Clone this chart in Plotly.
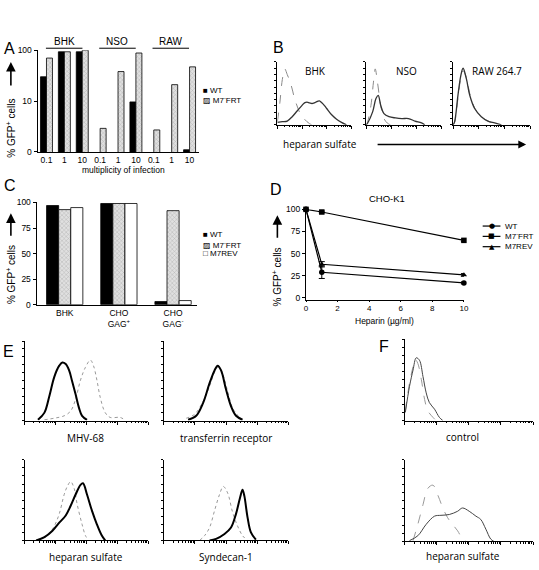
import plotly.graph_objects as go
import numpy as np

W, H = 539, 570

# ---------------- data ----------------
# Panel A (log scale, % GFP+ cells)
a_groups = ["BHK", "NSO", "RAW"]
a_moi = ["0.1", "1", "10"]
a_wt = [30, 93, 93, None, None, 9.6, None, None, 1.1]
a_frt = [70, 93, 100, 2.9, 38, 88, 2.7, 21, 47]

# Panel C
c_cats = ["BHK", "CHO<br>GAG<sup>+</sup>", "CHO<br>GAG<sup>-</sup>"]
c_wt = [97, 99, 3]
c_frt = [93, 99, 92]
c_rev = [95, 99, 4]

# Panel D
d_heparin = [0, 1, 10]
d_wt = [100, 29, 17]
d_wt_err = [0, 7, 1]
d_frt = [100, 97, 65]
d_frt_err = [0, 1, 1.5]
d_rev = [100, 38, 26]
d_rev_err = [0, 3, 1.5]

# Panel B histograms (x in log decades, y relative counts)
b_bhk_ctrl_x = [0.0, 0.1, 0.2, 0.3, 0.4, 0.5, 0.6, 0.7, 0.8, 0.9, 1.0, 1.1, 1.2, 1.3, 1.4]
b_bhk_ctrl_y = [0.05, 0.35, 0.72, 0.89, 0.8, 0.7, 0.57, 0.41, 0.3, 0.2, 0.14, 0.09, 0.05, 0.02, 0.0]
b_bhk_hs_x = [0.0, 0.2, 0.4, 0.6, 0.8, 1.0, 1.1, 1.2, 1.3, 1.4, 1.5, 1.6, 1.7, 1.8, 1.9, 2.0, 2.2, 2.4, 2.6, 2.8]
b_bhk_hs_y = [0.04, 0.05, 0.06, 0.13, 0.22, 0.31, 0.35, 0.36, 0.35, 0.34, 0.35, 0.37, 0.38, 0.35, 0.31, 0.26, 0.16, 0.09, 0.04, 0.0]
b_nso_ctrl_x = [0.0, 0.06, 0.19, 0.29, 0.36, 0.45, 0.58, 0.71, 0.84, 0.97]
b_nso_ctrl_y = [0.0, 0.05, 0.31, 0.68, 0.89, 0.68, 0.31, 0.1, 0.03, 0.0]
b_nso_hs_x = [0.0, 0.06, 0.26, 0.39, 0.48, 0.58, 0.71, 0.91, 1.17, 1.43, 1.69, 1.95, 2.21, 2.34]
b_nso_hs_y = [0.0, 0.03, 0.21, 0.42, 0.47, 0.31, 0.18, 0.13, 0.11, 0.1, 0.1, 0.06, 0.03, 0.0]
b_raw_x = [0.0, 0.06, 0.19, 0.3, 0.39, 0.52, 0.65, 0.84, 1.1, 1.36, 1.62, 1.88]
b_raw_hs_y = [0.0, 0.05, 0.47, 0.78, 0.9, 0.73, 0.47, 0.26, 0.13, 0.06, 0.03, 0.0]
b_raw_ctrl_y = [0.0, 0.04, 0.42, 0.74, 0.86, 0.75, 0.5, 0.27, 0.13, 0.06, 0.03, 0.0]

# Panel E histograms
e_mhv_x = [0.43, 0.64, 0.8, 0.96, 1.12, 1.22, 1.33, 1.44, 1.54, 1.65, 1.76, 1.86, 2.02]
e_mhv_y = [0.01, 0.1, 0.31, 0.55, 0.69, 0.73, 0.71, 0.63, 0.49, 0.33, 0.16, 0.06, 0.01]
e_mhv_ctrl_x = [0.64, 0.96, 1.28, 1.49, 1.65, 1.81, 1.97, 2.13, 2.23, 2.34, 2.45, 2.61, 2.77, 3.09, 3.24]
e_mhv_ctrl_y = [0.01, 0.03, 0.06, 0.12, 0.27, 0.51, 0.67, 0.76, 0.69, 0.51, 0.29, 0.1, 0.04, 0.04, 0.01]
e_tfr_x = [0.78, 1.04, 1.26, 1.47, 1.63, 1.73, 1.84, 2.0, 2.16, 2.32, 2.53]
e_tfr_y = [0.01, 0.06, 0.22, 0.47, 0.63, 0.69, 0.63, 0.39, 0.18, 0.06, 0.01]
e_tfr_ctrl_x = [0.72, 0.99, 1.26, 1.47, 1.68, 1.77, 1.89, 2.05, 2.21, 2.43]
e_tfr_ctrl_y = [0.03, 0.08, 0.24, 0.43, 0.65, 0.67, 0.59, 0.37, 0.16, 0.04]
e_hs_x = [0.37, 0.64, 0.9, 1.12, 1.33, 1.49, 1.65, 1.81, 1.89, 2.02, 2.18, 2.34, 2.5, 2.61]
e_hs_y = [0.0, 0.04, 0.12, 0.22, 0.31, 0.43, 0.57, 0.69, 0.71, 0.57, 0.37, 0.2, 0.06, 0.0]
e_hs_ctrl_x = [0.43, 0.74, 0.96, 1.12, 1.28, 1.38, 1.49, 1.6, 1.7, 1.86, 1.97, 2.07]
e_hs_ctrl_y = [0.0, 0.06, 0.18, 0.33, 0.57, 0.67, 0.73, 0.65, 0.45, 0.2, 0.06, 0.0]
e_syn_x = [1.47, 1.68, 1.95, 2.16, 2.32, 2.45, 2.53, 2.59, 2.69, 2.8, 2.96]
e_syn_y = [0.0, 0.02, 0.08, 0.16, 0.33, 0.53, 0.63, 0.55, 0.29, 0.1, 0.01]
e_syn_ctrl_x = [1.15, 1.31, 1.47, 1.63, 1.79, 1.91, 2.05, 2.21, 2.37, 2.53, 2.69]
e_syn_ctrl_y = [0.0, 0.06, 0.16, 0.37, 0.57, 0.67, 0.59, 0.35, 0.18, 0.06, 0.0]

# Panel F histograms
f_ctl_x = [0.02, 0.15, 0.26, 0.36, 0.46, 0.57, 0.67, 0.77, 0.93, 1.08, 1.19]
f_ctl_y = [0.1, 0.42, 0.62, 0.77, 0.74, 0.54, 0.34, 0.22, 0.14, 0.04, 0.0]
f_ctl_ctrl_x = [0.02, 0.15, 0.26, 0.33, 0.41, 0.52, 0.62, 0.72, 0.88, 0.98]
f_ctl_ctrl_y = [0.12, 0.46, 0.66, 0.75, 0.7, 0.5, 0.26, 0.12, 0.04, 0.0]
f_hs_x = [0.15, 0.41, 0.67, 0.93, 1.13, 1.39, 1.65, 1.8, 2.01, 2.22, 2.37, 2.53, 2.68, 2.78]
f_hs_y = [0.01, 0.07, 0.21, 0.31, 0.32, 0.33, 0.37, 0.41, 0.37, 0.31, 0.27, 0.15, 0.03, 0.0]
f_hs_ctrl_x = [0.26, 0.41, 0.57, 0.72, 0.88, 1.03, 1.19, 1.34, 1.49, 1.65, 1.8, 1.91]
f_hs_ctrl_y = [0.01, 0.21, 0.45, 0.65, 0.69, 0.57, 0.41, 0.29, 0.21, 0.13, 0.03, 0.0]

# ---------------- helpers ----------------
FONT = "Liberation Sans, Arial, DejaVu Sans, sans-serif"
HFONT = "Open Sans, Liberation Sans, sans-serif"


def xd(l, r):
    return [l / W, r / W]


def yd(t, b):
    return [1 - b / H, 1 - t / H]


def X(p):
    return p / W


def Y(p):
    return 1 - p / H


layout = {}
annotations = []
shapes = []
traces = []


def add_axes(n, xdom, ydom, xopts, yopts):
    sfx = "" if n == 1 else str(n)
    base = dict(showgrid=False, zeroline=False, showline=True, linecolor="black",
                linewidth=1, ticks="outside", tickcolor="black", tickwidth=1,
                tickfont=dict(family=FONT, size=8.5, color="black"), fixedrange=True)
    xa = dict(base, domain=xdom, anchor="y" + sfx)
    xa.update(xopts)
    ya = dict(base, domain=ydom, anchor="x" + sfx)
    ya.update(yopts)
    layout["xaxis" + sfx] = xa
    layout["yaxis" + sfx] = ya
    return "x" + sfx, "y" + sfx


def hist_axes(n, xdom, ydom, ndec):
    minor_vals = [k + np.log10(m) for k in range(ndec) for m in range(2, 10)]
    return add_axes(
        n, xdom, ydom,
        dict(range=[0, ndec], tickmode="array", tickvals=list(range(ndec + 1)),
             ticklen=3, showticklabels=False,
             minor=dict(tickmode="array", tickvals=minor_vals, ticks="outside",
                        ticklen=1.5, tickcolor="black", showgrid=False)),
        dict(range=[0, 1], tickmode="linear", tick0=0, dtick=0.1, ticklen=2,
             showticklabels=False))


def text(x, y, s, size=9, family=FONT, anchor="center", angle=0):
    annotations.append(dict(x=X(x), y=Y(y), xref="paper", yref="paper", text=s,
                            showarrow=False, xanchor=anchor, yanchor="middle",
                            textangle=angle,
                            font=dict(family=family, size=size, color="#000000")))


def ytitle(x, ymid, a_top, a_bot):
    text(x, ymid, "% GFP<sup>+</sup> cells", size=10, angle=-90)
    annotations.append(dict(x=X(x), y=Y(a_top), xref="paper", yref="paper", text="",
                            showarrow=True, ax=0, ay=a_bot - a_top, arrowhead=2,
                            arrowsize=1.2, arrowwidth=1.6, arrowcolor="black"))


# ---------------- Panel A ----------------
xa, ya = add_axes(1, xd(36, 200), yd(46, 149.5),
                  dict(range=[-0.5, 8.55], tickmode="array", tickvals=list(range(9)),
                       ticktext=a_moi * 3, ticks="", ticklen=0),
                  dict(type="log", range=[0, 2], tickmode="array", tickvals=[1, 10, 100],
                       ticktext=["0", "10", "100"], ticklen=3))
slots = list(range(9))
traces.append(go.Bar(x=slots, y=a_wt, xaxis=xa, yaxis=ya, name="WT",
                     marker=dict(color="black", line=dict(color="black", width=0.8)),
                     showlegend=False))
traces.append(go.Bar(x=slots, y=a_frt, xaxis=xa, yaxis=ya, name="M7-FRT",
                     marker=dict(color="#d4d4d4", line=dict(color="black", width=0.8),
                                 pattern=dict(shape="x", size=3, solidity=0.25,
                                              fgcolor="#777", bgcolor="#e0e0e0")),
                     showlegend=False))
text(8, 44, "A", size=16)
for i, g in enumerate(a_groups):
    cx = 63 + i * 54
    text(cx, 37, g, size=10)
    shapes.append(dict(type="line", xref="paper", yref="paper",
                       x0=X(cx - 18.5), x1=X(cx + 18.5), y0=Y(44), y1=Y(44),
                       line=dict(color="black", width=1)))
text(202, 87, "■ WT", size=8, anchor="left")
text(202, 97, "▨ M7<sup>-</sup>FRT", size=8, anchor="left")
text(123, 168, "multiplicity of infection", size=8.5)
ytitle(9, 125, 58, 83)

# ---------------- Panel B ----------------
b_sets = [
    (xd(279, 354), b_bhk_hs_x, b_bhk_hs_y, b_bhk_ctrl_x, b_bhk_ctrl_y, "BHK", 318),
    (xd(369, 445), b_nso_hs_x, b_nso_hs_y, b_nso_ctrl_x, b_nso_ctrl_y, "NSO", 410),
    (xd(457, 535), b_raw_x, b_raw_hs_y, b_raw_x, b_raw_ctrl_y, "RAW 264.7", 502),
]
for i, (xdm, sx, sy, cx_, cy_, lab, lx) in enumerate(b_sets):
    xa, ya = hist_axes(2 + i, xdm, yd(58, 122), 3)
    traces.append(go.Scatter(x=cx_, y=cy_, xaxis=xa, yaxis=ya, mode="lines",
                             line=dict(color="#8a8a8a", width=1, dash="dash", shape="spline"),
                             showlegend=False))
    traces.append(go.Scatter(x=sx, y=sy, xaxis=xa, yaxis=ya, mode="lines",
                             line=dict(color="#333", width=1.3, shape="spline"),
                             showlegend=False))
    text(lx, 67, lab, size=10, family=HFONT)
text(280, 43, "B", size=16)
text(283, 141, "heparan sulfate", size=10, family=HFONT, anchor="left")
annotations.append(dict(x=X(531), y=Y(142), xref="paper", yref="paper", text="",
                        showarrow=True, ax=-150, ay=0, arrowhead=2, arrowsize=1.2,
                        arrowwidth=1.3, arrowcolor="black"))

# ---------------- Panel C ----------------
xa, ya = add_axes(5, xd(35, 198), yd(201, 305),
                  dict(range=[-0.52, 2.45], tickmode="array", tickvals=[0, 1, 2],
                       ticktext=c_cats, ticks=""),
                  dict(range=[0, 100], tickmode="array", tickvals=[0, 25, 50, 75, 100],
                       ticklen=3))
traces.append(go.Bar(x=[0, 1, 2], y=c_wt, xaxis=xa, yaxis=ya,
                     marker=dict(color="black", line=dict(color="black", width=0.8)),
                     showlegend=False))
traces.append(go.Bar(x=[0, 1, 2], y=c_frt, xaxis=xa, yaxis=ya,
                     marker=dict(color="#d4d4d4", line=dict(color="black", width=0.8),
                                 pattern=dict(shape="x", size=3, solidity=0.25,
                                              fgcolor="#777", bgcolor="#e0e0e0")),
                     showlegend=False))
traces.append(go.Bar(x=[0, 1, 2], y=c_rev, xaxis=xa, yaxis=ya,
                     marker=dict(color="white", line=dict(color="black", width=0.8)),
                     showlegend=False))
text(8, 184, "C", size=16)
text(202, 234, "■ WT", size=8, anchor="left")
text(202, 244, "▨ M7<sup>-</sup>FRT", size=8, anchor="left")
text(202, 253, "□ M7REV", size=8, anchor="left")
ytitle(9, 274, 212, 236)

# ---------------- Panel D ----------------
xa, ya = add_axes(6, xd(308, 468), yd(208, 300),
                  dict(range=[0, 10], tickmode="array", tickvals=[0, 2, 4, 6, 8, 10],
                       ticklen=1, tickfont=dict(family=FONT, size=8, color="black")),
                  dict(range=[-2, 100], tickmode="array", tickvals=[0, 25, 50, 75, 100],
                       ticklen=3))
d_series = [(d_wt, d_wt_err, "circle", "WT", "●"),
            (d_frt, d_frt_err, "square", "M7<sup>-</sup>FRT", "■"),
            (d_rev, d_rev_err, "triangle-up", "M7REV", "▲")]
for k, (yv, err, sym, nm, glyph) in enumerate(d_series):
    traces.append(go.Scatter(x=d_heparin, y=yv, xaxis=xa, yaxis=ya, name=nm,
                             mode="lines+markers", cliponaxis=False,
                             line=dict(color="black", width=1.2),
                             marker=dict(color="black", size=5.5, symbol=sym),
                             error_y=dict(type="data", array=err, color="black",
                                          thickness=1, width=3),
                             showlegend=False))
    ly = 225 + k * 10.5
    shapes.append(dict(type="line", xref="paper", yref="paper", x0=X(487), x1=X(505),
                       y0=Y(ly), y1=Y(ly), line=dict(color="black", width=1.2)))
    text(496, ly, glyph, size=7, family="DejaVu Sans")
    text(508, ly, nm, size=8, anchor="left")
text(278, 188, "D", size=16)
text(390, 197, "CHO-K1", size=9.5)
text(388, 322, "Heparin (µg/ml)", size=8.5)
ytitle(279, 277, 214, 238)

# ---------------- Panel E ----------------
e_sets = [
    (xd(23, 148), yd(342, 423), e_mhv_x, e_mhv_y, e_mhv_ctrl_x, e_mhv_ctrl_y, "MHV-68", 85, 441),
    (xd(164, 290), yd(342, 423), e_tfr_x, e_tfr_y, e_tfr_ctrl_x, e_tfr_ctrl_y, "transferrin receptor", 227, 441),
    (xd(23, 148), yd(463, 545), e_hs_x, e_hs_y, e_hs_ctrl_x, e_hs_ctrl_y, "heparan sulfate", 85, 562),
    (xd(164, 290), yd(463, 545), e_syn_x, e_syn_y, e_syn_ctrl_x, e_syn_ctrl_y, "Syndecan-1", 227, 562),
]
for i, (xdm, ydm, sx, sy, cx_, cy_, lab, lx, ly) in enumerate(e_sets):
    xa, ya = hist_axes(7 + i, xdm, ydm, 4)
    traces.append(go.Scatter(x=cx_, y=cy_, xaxis=xa, yaxis=ya, mode="lines",
                             line=dict(color="#999", width=1, dash="dot", shape="spline"),
                             showlegend=False))
    traces.append(go.Scatter(x=sx, y=sy, xaxis=xa, yaxis=ya, mode="lines",
                             line=dict(color="black", width=2, shape="spline"),
                             showlegend=False))
    text(lx, ly, lab, size=10, family=HFONT)
text(7, 353, "E", size=16)

# ---------------- Panel F ----------------
f_sets = [
    (yd(340, 423), f_ctl_x, f_ctl_y, f_ctl_ctrl_x, f_ctl_ctrl_y, "control", 440),
    (yd(463, 546), f_hs_x, f_hs_y, f_hs_ctrl_x, f_hs_ctrl_y, "heparan sulfate", 561),
]
for i, (ydm, sx, sy, cx_, cy_, lab, ly) in enumerate(f_sets):
    xa, ya = hist_axes(11 + i, xd(408, 538), ydm, 4)
    traces.append(go.Scatter(x=cx_, y=cy_, xaxis=xa, yaxis=ya, mode="lines",
                             line=dict(color="#999", width=1, dash="dash", shape="spline"),
                             showlegend=False))
    traces.append(go.Scatter(x=sx, y=sy, xaxis=xa, yaxis=ya, mode="lines",
                             line=dict(color="#444", width=1, shape="spline"),
                             showlegend=False))
    text(467, ly, lab, size=10, family=HFONT)
text(387, 348, "F", size=16)

fig = go.Figure(data=traces)
fig.update_layout(**layout)
fig.update_layout(
    width=W, height=H, margin=dict(l=0, r=0, t=0, b=0),
    paper_bgcolor="white", plot_bgcolor="white",
    barmode="group", bargap=0.33, bargroupgap=0,
    annotations=annotations, shapes=shapes, showlegend=False,
    font=dict(family=FONT, size=8, color="black"),
)
fig.write_html("out.html", config={"displayModeBar": False},
               post_script="document.body.style.margin='0';document.body.style.overflow='hidden';")
